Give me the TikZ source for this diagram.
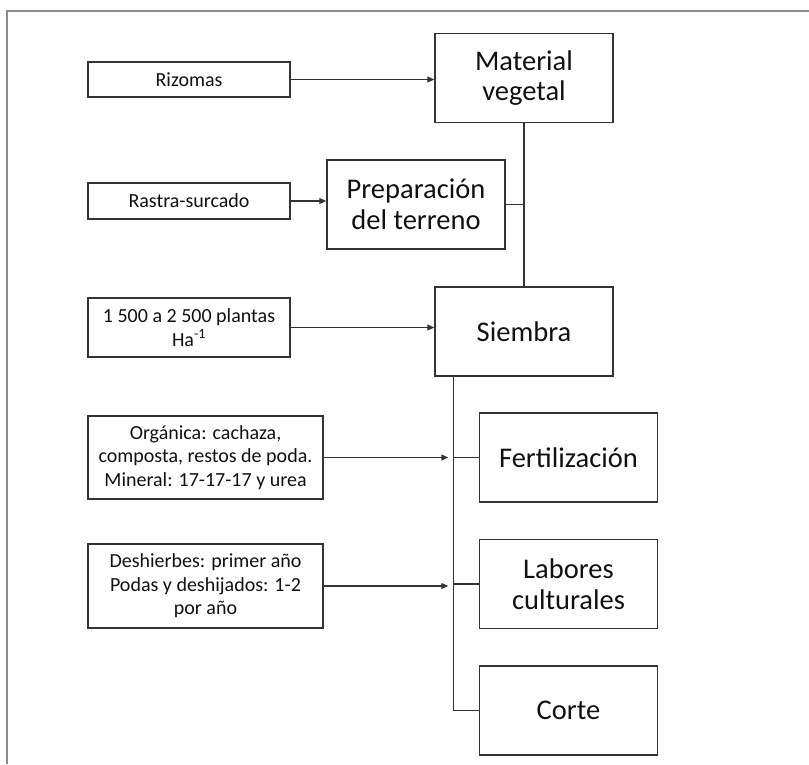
\documentclass[tikz,border=0pt]{standalone}
\usepackage{fontspec}
\setmainfont{Carlito}
\usepackage{xcolor}
\usepackage{tikz}
\usetikzlibrary{arrows.meta, positioning, calc}
\definecolor{trait}{HTML}{333333}
\definecolor{cadre}{HTML}{8C8C8C}
\definecolor{texte}{HTML}{111111}
\tikzset{
  etapa/.style={rectangle, draw=trait, line width=1.5pt, fill=white,
    text=texte, font=\fontsize{28.5}{30.5}\selectfont, align=center,
    minimum width=178pt, minimum height=89pt, inner sep=2pt},
  insumo/.style={rectangle, draw=trait, line width=1.4pt, fill=white,
    text=texte, font=\fontsize{20}{23.5}\selectfont, align=center,
    minimum width=202pt, inner sep=2pt},
  flecha/.style={-{Triangle[length=7pt, width=6pt]}, line width=1.2pt, color=trait},
  enlace/.style={line width=1.2pt, color=trait},
  marco/.style={line width=2pt, color=cadre}
}
\begin{document}
\begin{tikzpicture}[x=1pt, y=-1pt]
    \useasboundingbox (0,0) rectangle (809,764);
    % Marco exterior
    \draw[marco] (7,764) -- (7,11) -- (809,11);

    % Etapas
    \node[etapa] (material) at (524,78)    {Material\\ vegetal};
    \node[etapa] (prep)     at (416,204.5) {Preparación\\ del terreno};
    \node[etapa] (siembra)  at (524,331.5) {Siembra};
    \node[etapa] (fert)     at (568.5,457.5) {Fertilización};
    \node[etapa] (labores)  at (568.5,584)   {Labores\\ culturales};
    \node[etapa] (corte)    at (568.5,710.5) {Corte};

    % Insumos
    \node[insumo, minimum height=35pt] (rizomas) at (189,79.5) {Rizomas};
    \node[insumo, minimum height=36pt] (rastra)  at (189,201)  {Rastra-surcado};
    \node[insumo, minimum height=59pt] (plantas) at (189,327.5)
      {1 500 a 2 500 plantas\\ Ha\textsuperscript{-1}};
    \node[insumo, minimum width=235pt, minimum height=83pt] (organica) at (205.5,457.5)
      {Orgánica: cachaza,\\ composta, restos de poda.\\ Mineral: 17-17-17 y urea};
    \node[insumo, minimum width=235pt, minimum height=84pt] (deshierbes) at (205.5,586)
      {Deshierbes: primer año\\ Podas y deshijados: 1-2\\ por año};

    % Conectores
    \draw[flecha] (rizomas.east) -- (rizomas.east -| material.west);
    \draw[flecha] (rastra.east) -- (rastra.east -| prep.west);
    \draw[flecha] (plantas.east) -- (plantas.east -| siembra.west);
    \draw[enlace] (material.south) -- (siembra.north);
    \draw[enlace] (prep.east) -- (prep.east -| material.south);

    \coordinate (tronco) at ([xshift=19pt]siembra.south west);
    \draw[enlace] (tronco) |- (corte.west);
    \draw[enlace] (tronco |- fert.west) -- (fert.west);
    \draw[enlace] (tronco |- labores.west) -- (labores.west);
    \draw[flecha] (organica.east) -- ([xshift=-5pt]tronco |- organica.east);
    \draw[flecha] (deshierbes.east) -- ([xshift=-5pt]tronco |- deshierbes.east);
\end{tikzpicture}
\end{document}
